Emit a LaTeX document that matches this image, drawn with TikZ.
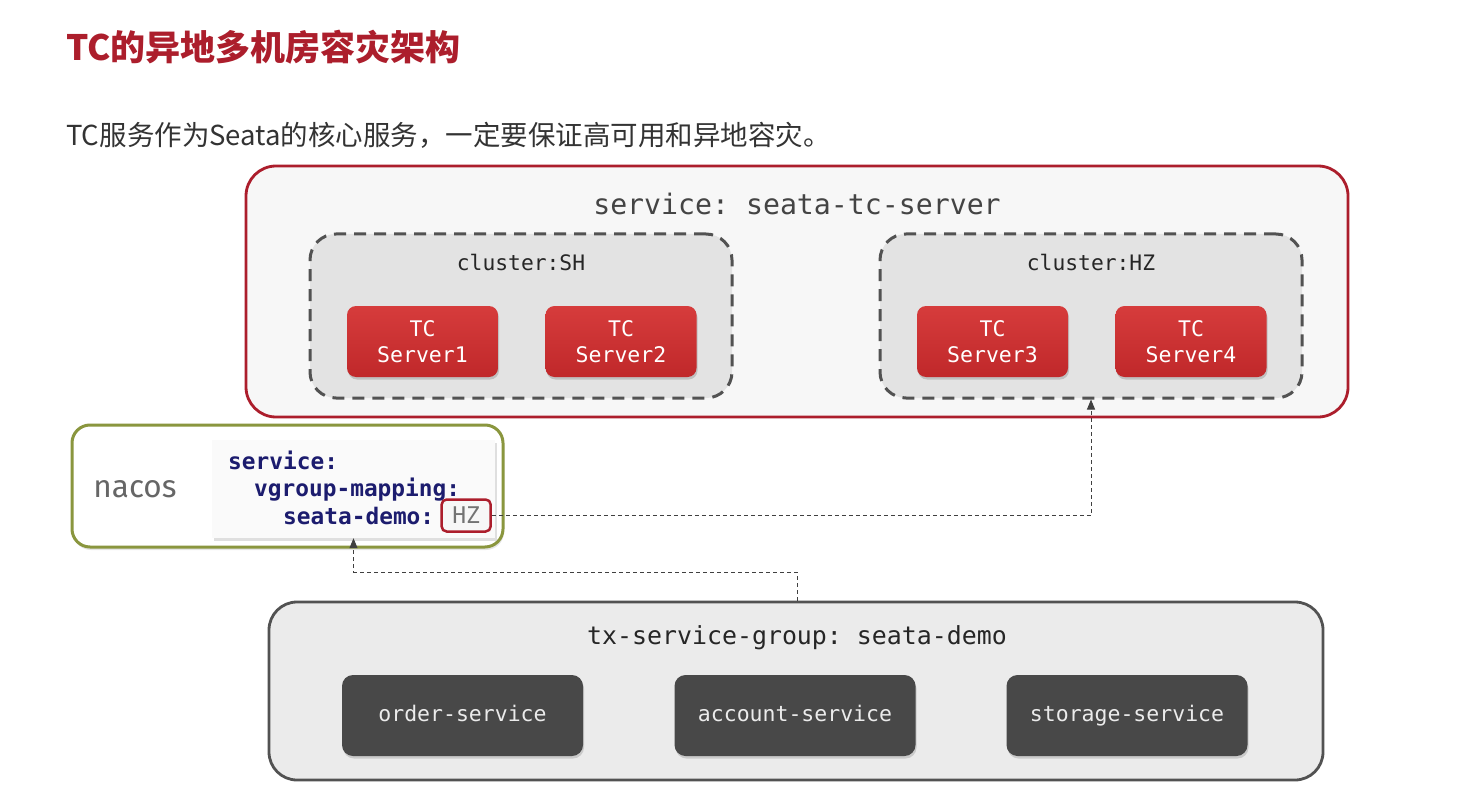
\documentclass[tikz,border=0pt]{standalone}
\usepackage{fontspec}
\setmonofont{DejaVu Sans Mono}
\setsansfont{Fira Sans}
\newfontfamily\cjk{Noto Sans CJK SC}
\usetikzlibrary{shapes, arrows.meta, positioning, calc, shadows}
\definecolor{seatared}{RGB}{172, 30, 44}
\definecolor{tcred}{RGB}{214, 60, 60}
\definecolor{tcdark}{RGB}{192, 40, 42}
\definecolor{olivegreen}{RGB}{138, 150, 62}
\definecolor{codeblue}{RGB}{28, 28, 110}
\definecolor{darkbox}{RGB}{72, 72, 72}
\definecolor{textgray}{RGB}{68, 68, 68}

\tikzset{
  tcbox/.style={rounded corners=9pt, top color=tcred, bottom color=tcdark, draw=none,
    minimum width=151pt, minimum height=71pt, align=center, text=white,
    font=\ttfamily\fontsize{21.5}{26}\selectfont,
    drop shadow={shadow xshift=1pt, shadow yshift=-2.5pt, opacity=0.35}},
  appbox/.style={rounded corners=11pt, fill=darkbox, draw=none,
    minimum width=241pt, minimum height=81pt, text=white!92!black,
    text height=16pt, text depth=5pt,
    font=\ttfamily\fontsize{21.5}{26}\selectfont,
    drop shadow={shadow xshift=1pt, shadow yshift=-2.5pt, opacity=0.3}},
  clusterbox/.style={rounded corners=26pt, fill=black!11, draw=black!68, line width=3pt,
    dash pattern=on 12pt off 8pt, minimum width=422pt, minimum height=164pt},
  monolabel/.style={font=\ttfamily\fontsize{#1}{#1}\selectfont, text=textgray},
  codeline/.style={anchor=base west, font=\ttfamily\bfseries\fontsize{22.8}{26}\selectfont, text=codeblue, inner sep=0pt},
  link/.style={draw=black!75, line width=0.9pt, dash pattern=on 4pt off 3pt,
    -{Triangle[length=10pt, width=8pt]}}
}

\begin{document}
\begin{tikzpicture}[x=1pt, y=-1pt]
  \fill[white] (0,0) rectangle (1463,802);
  \useasboundingbox (0,0) rectangle (1463,802);

  % heading
  \node[anchor=west, inner sep=0pt, text=seatared, font=\cjk\bfseries\fontsize{35}{40}\selectfont] (title) at (66,47) {TC的异地多机房容灾架构};
  \node[anchor=west, inner sep=0pt, text=black!80, font=\cjk\fontsize{27.5}{32}\selectfont] (intro) at (66,135) {TC服务作为Seata的核心服务，一定要保证高可用和异地容灾。};

  % TC server side
  \node[draw=seatared, line width=2.8pt, fill=black!3, rounded corners=30pt, minimum width=1102pt, minimum height=251pt] (tcsvc) at (797,291.5) {};
  \node[monolabel=28.2] (tcsvclabel) at (797,204) {service: seata-tc-server};

  \node[clusterbox] (sh) at (521,316) {};
  \node[monolabel=21.3, text=black!85] (shlabel) at (521,263) {cluster:SH};
  \node[tcbox] (s1) at (422.5,341.5) {TC\\Server1};
  \node[tcbox] (s2) at (621,341.5) {TC\\Server2};

  \node[clusterbox] (hzc) at (1091,316) {};
  \node[monolabel=21.3, text=black!85] (hzlabel) at (1091,263) {cluster:HZ};
  \node[tcbox] (s3) at (992.5,341.5) {TC\\Server3};
  \node[tcbox] (s4) at (1191,341.5) {TC\\Server4};

  % nacos config
  \node[draw=olivegreen, line width=3pt, fill=white, rounded corners=18pt, minimum width=431pt, minimum height=122pt,
    drop shadow={shadow xshift=1pt, shadow yshift=-3pt, opacity=0.2}] (nacos) at (287.5,486) {};
  \node[font=\sffamily\fontsize{31.5}{31.5}\selectfont, text=black!60] (nacoslabel) at (135,489) {nacos};
  \node[fill=black!2, minimum width=283pt, minimum height=98pt,
    drop shadow={shadow xshift=1.5pt, shadow yshift=-2.5pt, opacity=0.25}] (code) at (353.5,489) {};
  \node[codeline] (svc) at (228,469) {service:};
  \node[codeline] (vgm) at (254,496) {vgroup-mapping:};
  \node[codeline] (demo) at (283,524) {seata-demo:};
  \node[draw=seatared, line width=2.5pt, rounded corners=5pt, fill=black!3, minimum width=49pt, minimum height=32pt,
    font=\ttfamily\fontsize{23}{23}\selectfont, text=black!55, right=6pt of demo] (hz) {HZ};

  % client side
  \node[draw=black!68, line width=2.8pt, fill=black!8, rounded corners=28pt, minimum width=1054pt, minimum height=178pt] (txg) at (796,691) {};
  \node[monolabel=24.9, text=black!85] (txglabel) at (797,638) {tx-service-group: seata-demo};
  \node[appbox] (order) at (462.5,715.5) {order-service};
  \node[appbox] (account) at (795,715.5) {account-service};
  \node[appbox] (storage) at (1127,715.5) {storage-service};

  % lookups
  \coordinate (bend) at (797,572);
  \draw[link] (hz.east) -| (hzc.south);
  \draw[link] (txg.north -| bend) -- (bend) -| (code.south);
\end{tikzpicture}
\end{document}
